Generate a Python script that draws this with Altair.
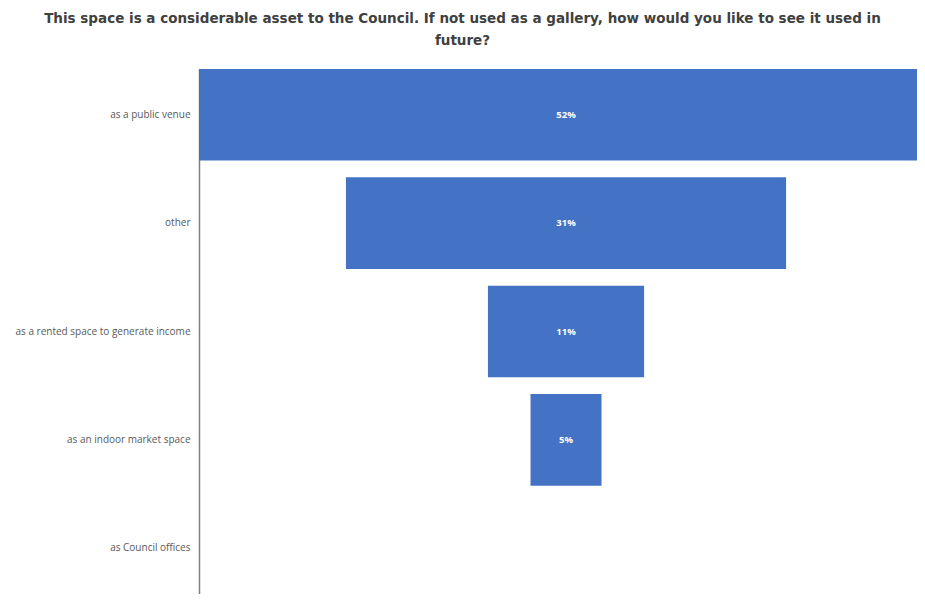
import altair as alt
import pandas as pd

categories = [
    "as a public venue",
    "other",
    "as a rented space to generate income",
    "as an indoor market space",
    "as Council offices",
]
values = [52, 31, 11, 5, 0]

df = pd.DataFrame({"cat": categories, "v": values})

base = alt.Chart(df).transform_calculate(
    x0="-datum.v/2", x1="datum.v/2", lab="datum.v + '%'"
)

y_enc = alt.Y(
    "cat:N",
    sort=categories,
    title=None,
    scale=alt.Scale(paddingInner=0.155, paddingOuter=0),
    axis=alt.Axis(
        ticks=False,
        labelPadding=9,
        labelFontSize=10,
        labelColor="#595959",
        labelFont="Open Sans",
        domainColor="#7f7f7f",
        domainWidth=1.5,
        minExtent=191,
        maxExtent=191,
        labelLimit=190,
    ),
)

x_scale = alt.Scale(domain=[-25.85, 24.72], nice=False, zero=False)

bars = base.mark_bar(color="#4472C4", clip=True).encode(
    y=y_enc,
    x=alt.X("x0:Q", scale=x_scale, axis=None),
    x2="x1:Q",
)

labels = base.transform_filter("datum.v > 0").mark_text(
    color="white", fontSize=9.5, font="Open Sans", fontWeight="bold"
).encode(
    y=alt.Y("cat:N", sort=categories),
    x=alt.value(367),
    text="lab:N",
)

chart = (
    alt.layer(bars, labels)
    .properties(
        width=718,
        height=525,
        padding={"left": 0, "top": 3, "right": 0, "bottom": 0},
        title=alt.TitleParams(
            text=[
                "This space is a considerable asset to the Council. If not used as a gallery, how would you like to see it used in",
                "future?",
            ],
            anchor="middle",
            frame="bounds",
            font="DejaVu Sans",
            fontSize=13.5,
            fontWeight="bold",
            color="#404040",
            lineHeight=22,
            offset=22,
        ),
    )
    .configure_view(stroke=None)
    .configure(background="white")
)

chart.save("out.html", embed_options={"renderer": "svg", "actions": False})
